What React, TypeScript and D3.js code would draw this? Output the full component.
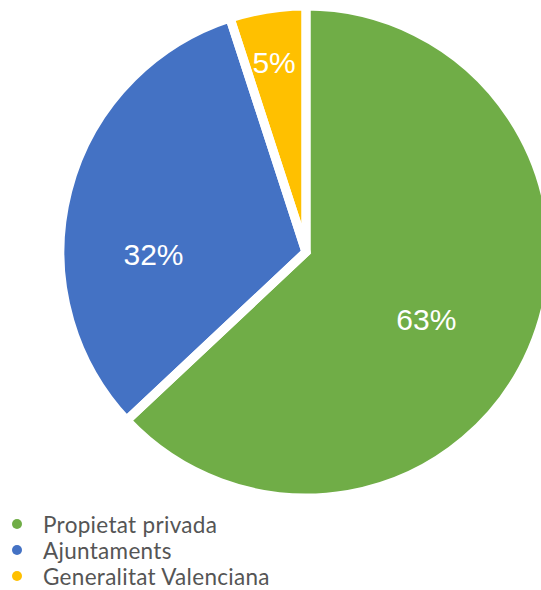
import { useEffect, useRef } from 'react'
import * as d3 from 'd3'

// Slice data, clockwise from 12 o'clock
const categories = ['Propietat privada', 'Ajuntaments', 'Generalitat Valenciana']
const shares = [63, 32, 5]
const sliceColors = ['#70AD47', '#4472C4', '#FFC000']

// label distance from centre, as a fraction of the radius
const labelRadius: Record<string, number> = {
  'Propietat privada': 0.56,
  Ajuntaments: 0.62,
  'Generalitat Valenciana': 0.78,
}
// small angular nudges (radians) for the labels
const labelNudge: Record<string, number> = {
  'Propietat privada': 0.1,
  Ajuntaments: -0.27,
  'Generalitat Valenciana': -0.01,
}

export default function App() {
  const svgRef = useRef<SVGSVGElement>(null)
  const width = 541
  const height = 590

  useEffect(() => {
    document.body.style.margin = '0'
    if (!svgRef.current) return
    const svg = d3.select(svgRef.current)
    svg.selectAll('*').remove()

    const cx = 306
    const cy = 252
    const r = 246

    const data = categories.map((c, i) => ({ label: c, value: shares[i], color: sliceColors[i] }))

    const pie = d3
      .pie<{ label: string; value: number; color: string }>()
      .sort(null)
      .value((d) => d.value)
    const arcs = pie(data)

    const arc = d3.arc<d3.PieArcDatum<{ label: string; value: number; color: string }>>()
      .innerRadius(0)
      .outerRadius(r)

    const g = svg.append('g').attr('transform', `translate(${cx},${cy})`)

    // fills
    g.selectAll('.slice')
      .data(arcs)
      .enter()
      .append('path')
      .attr('class', 'slice')
      .attr('d', arc)
      .attr('fill', (d) => d.data.color)

    // percentage labels
    g.selectAll('.pct')
      .data(arcs)
      .enter()
      .append('text')
      .attr('class', 'pct')
      .attr('transform', (d) => {
        const a = (d.startAngle + d.endAngle) / 2 + labelNudge[d.data.label]
        const rr = r * labelRadius[d.data.label]
        return `translate(${Math.sin(a) * rr},${-Math.cos(a) * rr})`
      })
      .attr('text-anchor', 'middle')
      .attr('dominant-baseline', 'central')
      .attr('fill', '#fff')
      .attr('font-family', 'Liberation Sans, Arial, sans-serif')
      .attr('font-size', '30px')
      .text((d) => `${d.data.value}%`)

    // white separators on top
    g.selectAll('.sep')
      .data(arcs)
      .enter()
      .append('path')
      .attr('class', 'sep')
      .attr('d', arc)
      .attr('fill', 'none')
      .attr('stroke', '#fff')
      .attr('stroke-width', 9)
      .attr('stroke-linejoin', 'miter')

    // legend
    const legend = svg.append('g').attr('transform', 'translate(17,524)')
    const rowY = d3.scaleBand().domain(categories).range([0, 78]).padding(0)

    legend
      .selectAll('circle')
      .data(data)
      .enter()
      .append('circle')
      .attr('cx', 0)
      .attr('cy', (d) => rowY(d.label)!)
      .attr('r', 5)
      .attr('fill', (d) => d.color)

    legend
      .selectAll('text')
      .data(data)
      .enter()
      .append('text')
      .attr('x', 26)
      .attr('y', (d) => rowY(d.label)!)
      .attr('dominant-baseline', 'central')
      .attr('fill', '#555')
      .attr('font-family', 'Lato, sans-serif')
      .attr('font-size', '22.5px')
      .attr('letter-spacing', '0.3px')
      .text((d) => d.label)
  }, [])

  return (
    <svg
      ref={svgRef}
      width={width}
      height={height}
      style={{ display: 'block', background: '#fff' }}
    />
  )
}
